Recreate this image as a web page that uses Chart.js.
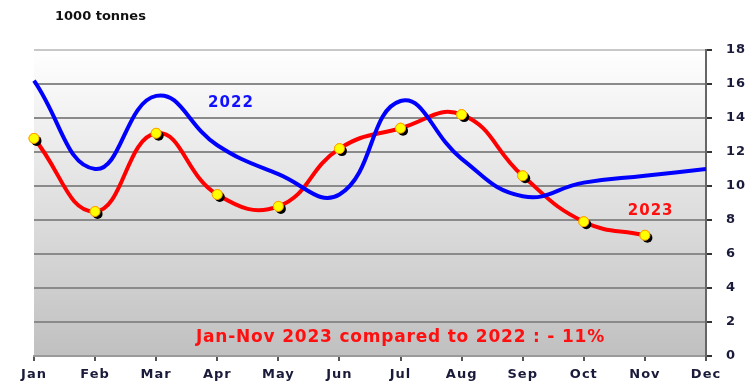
<!DOCTYPE html>
<html>
<head>
<meta charset="utf-8">
<script src="https://cdn.jsdelivr.net/npm/chart.js@4/dist/chart.umd.min.js"></script>
<style>
  html, body { margin: 0; padding: 0; background: #fff; }
  #wrap { width: 755px; height: 387px; position: relative; }
</style>
</head>
<body>
<div id="wrap"><canvas id="myChart" width="755" height="387"></canvas></div>
<script>
const meses = ["Jan", "Feb", "Mar", "Apr", "May", "Jun", "Jul", "Aug", "Sep", "Oct", "Nov", "Dec"];
const valores2022 = [16.2, 11.0, 15.3, 12.4, 10.7, 9.5, 15.0, 11.6, 9.4, 10.2, 10.6, 11.0];
const valores2023 = [12.8, 8.5, 13.1, 9.5, 8.8, 12.2, 13.4, 14.2, 10.6, 7.9, 7.1, null];
const ticksY = [0, 2, 4, 6, 8, 10, 12, 14, 16, 18];

const grafica = document.getElementById("myChart");
const fuente = "'DejaVu Sans', Verdana, sans-serif";

// fondo degradado del area del grafico
const fondo = {
  id: "fondo",
  beforeDraw: (chart) => {
    const { ctx, chartArea: a } = chart;
    ctx.letterSpacing = "1px"; // letras mas anchas en los ejes
    const g = ctx.createLinearGradient(0, a.top, 0, a.bottom);
    g.addColorStop(0, "#ffffff");
    g.addColorStop(1, "#c0c0c0");
    ctx.save();
    ctx.fillStyle = g;
    ctx.fillRect(a.left, a.top, a.right - a.left, a.bottom - a.top);
    ctx.restore();
  },
};

// sombra negra bajo los puntos de 2023
const sombra = {
  id: "sombra",
  afterDatasetDraw: (chart, args) => {
    if (args.index !== 1) return;
    const { ctx } = chart;
    const meta = args.meta;
    ctx.save();
    meta.data.forEach((p) => {
      if (p.skip) return;
      ctx.beginPath();
      ctx.fillStyle = "#000";
      ctx.arc(p.x + 2.5, p.y + 2.5, 5, 0, Math.PI * 2);
      ctx.fill();
    });
    meta.data.forEach((p) => {
      if (!p.skip) p.draw(ctx, chart.chartArea);
    });
    ctx.restore();
  },
};

// textos sobre el grafico
const textos = {
  id: "textos",
  afterDraw: (chart) => {
    const { ctx, scales } = chart;
    const x = scales.x, y = scales.y;
    ctx.save();
    ctx.textBaseline = "middle";
    ctx.letterSpacing = "0px";
    ctx.font = "bold 13px " + fuente;
    ctx.fillStyle = "#111";
    ctx.fillText("1000 tonnes", 55, 17);
    ctx.letterSpacing = "1px";
    ctx.font = "bold 15px " + fuente;
    ctx.fillStyle = "#1010ff";
    ctx.fillText("2022", x.getPixelForValue(2.85), y.getPixelForValue(14.9));
    ctx.fillStyle = "#ff1010";
    ctx.fillText("2023", x.getPixelForValue(9.72), y.getPixelForValue(8.5));
    ctx.letterSpacing = "0.8px";
    ctx.font = "bold 17px " + fuente;
    ctx.fillText("Jan-Nov 2023 compared to 2022 : - 11%", x.getPixelForValue(2.65), y.getPixelForValue(1.1));
    ctx.restore();
  },
};

const datasets = [
  {
    label: "2022",
    data: valores2022,
    borderColor: "#0000ff",
    borderWidth: 4,
    pointRadius: 0,
    tension: 0.45,
  },
  {
    label: "2023",
    data: valores2023,
    borderColor: "#ff0000",
    borderWidth: 4,
    pointRadius: 5,
    pointBackgroundColor: "#ffff00",
    pointBorderColor: "#ffa000",
    pointBorderWidth: 1,
    tension: 0.45,
  },
];

const config = {
  type: "line",
  data: { labels: meses, datasets },
  options: {
    responsive: false,
    animation: false,
    layout: { padding: { top: 50, left: 34, right: 0, bottom: 0 } },
    plugins: { legend: { display: false }, tooltip: { enabled: false } },
    scales: {
      x: {
        offset: false,
        grid: {
          drawOnChartArea: false,
          color: "#555",
          tickLength: 5,
          lineWidth: 2,
        },
        border: { color: "#9a9a9a", width: 2 },
        ticks: {
          color: "#1a1a3a",
          font: { family: fuente, weight: "bold", size: 13 },
          padding: 6,
          maxRotation: 0,
          autoSkip: false,
        },
        afterFit: (s) => { s.height = 31; },
      },
      y: {
        position: "right",
        min: 0,
        max: 18,
        afterBuildTicks: (s) => { s.ticks = ticksY.map((v) => ({ value: v })); },
        grid: {
          color: (c) => (c.tick && c.tick.value === 18 ? "#c8c8c8" : "#8a8a8a"),
          lineWidth: 2,
          tickLength: 6,
          tickColor: "#333",
        },
        border: { color: "#666", width: 2 },
        ticks: {
          color: "#1a1a3a",
          font: { family: fuente, weight: "bold", size: 13 },
          padding: 14,
        },
        afterFit: (s) => { s.width = 49; },
      },
    },
  },
  plugins: [fondo, sombra, textos],
};

new Chart(grafica, config);
</script>
</body>
</html>
